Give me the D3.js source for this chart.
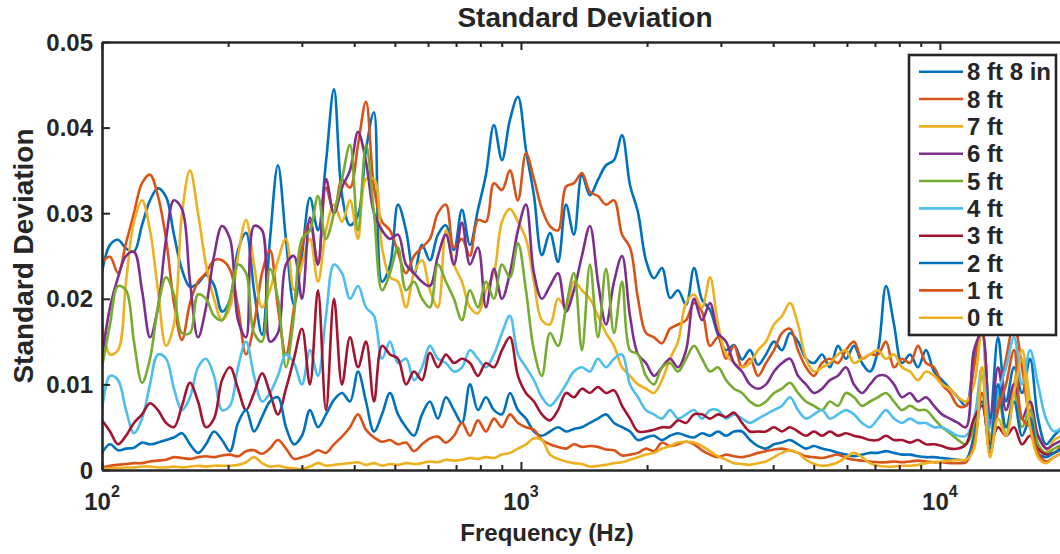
<!DOCTYPE html>
<html>
<head>
<meta charset="utf-8">
<script src="https://cdn.jsdelivr.net/npm/d3@7"></script>
<style>
  body { margin: 0; background: #fff; }
  svg { display: block; font-family: "Liberation Sans", Arial, Helvetica, sans-serif; font-weight: bold; }
</style>
</head>
<body>
<svg id="chart" width="1060" height="554"></svg>
<script>
// Frequency grid (Hz), shared by every curve
const freqHz = [100,104.5,109.2,114.1,119.2,124.6,130.2,136.0,142.2,148.5,155.2,162.2,169.5,177.1,185.1,193.4,202.1,211.2,220.7,230.6,241.0,251.7,263.0,274.9,287.2,300.1,313.6,327.7,342.5,357.9,374.0,390.8,408.4,426.7,445.9,466.0,486.9,508.8,531.7,555.6,580.6,606.3,633.6,662.1,691.9,723.0,755.5,789.5,825.0,862.1,900.9,941.2,983.6,1028,1074,1122,1173,1226,1281,1338,1398,1461,1527,1596,1668,1743,1821,1903,1988,2078,2171,2269,2371,2478,2589,2705,2827,2954,3087,3226,3371,3521,3680,3845,4018,4199,4388,4585,4791,5007,5232,5465,5711,5968,6236,6517,6810,7116,7436,7771,8120,8485,8867,9265,9682,10117,10572,11048,11544,12063,12606,13173,13765,14384,15031,15707,16413,17151,17922,18728,19570];

// Standard deviation per microphone height
const sd8ft8in = [0.0231,0.0263,0.0269,0.0259,0.0255,0.0286,0.0315,0.0329,0.0319,0.0275,0.0234,0.0214,0.0218,0.0228,0.0216,0.0185,0.0199,0.0257,0.0277,0.021,0.0158,0.0269,0.0356,0.0269,0.0193,0.0251,0.0318,0.028,0.036,0.0445,
  0.0321,0.0286,0.0298,0.0374,0.0418,0.022,0.0239,0.031,0.028,0.0228,0.0263,0.0245,0.0275,0.0286,0.0257,0.0304,0.0263,0.0304,0.0345,0.0403,0.0362,0.0409,0.0436,0.0374,0.0321,0.0251,0.0277,0.0243,0.031,0.0275,0.0345,0.0321,0.0339,0.0356,0.0362,0.0391,0.0333,0.0301,0.0245,0.0224,0.0236,0.0201,0.021,0.0193,0.0236,0.0199,0.0187,0.0158,0.014,0.0146,0.0129,0.014,0.0123,
  0.0135,0.015,0.014,0.016,0.015,0.013,0.0125,0.0135,0.012,0.0145,0.013,0.0145,0.0125,0.0115,0.014,0.0215,0.017,0.0125,0.0135,0.012,0.014,0.0115,0.0105,0.0095,0.0085,
  0.0075,0.013,0.016,0.006,0.0155,0.008,0.012,0.009,0.013,0.006,0.003,0.004,0.005];
const sd8ft = [0.0243,0.0249,0.023,0.0265,0.03,0.0335,0.0345,0.032,0.027,0.0195,0.0152,0.0195,0.022,0.023,0.0245,0.0245,0.0234,0.019,0.0135,0.017,0.023,0.0257,0.019,0.0135,0.019,0.026,0.029,0.024,0.033,0.03,
  0.0339,0.033,0.038,0.043,0.033,0.029,0.028,0.0254,0.023,0.025,0.026,0.027,0.03,0.031,0.026,0.027,0.025,0.0292,0.029,0.0335,0.0327,0.035,0.0315,0.037,0.034,0.0305,0.0285,0.028,0.0331,0.0335,0.0347,0.0325,0.032,0.031,0.0315,0.0275,0.026,0.02,0.016,0.0155,0.0148,0.0165,0.017,0.0175,0.0195,0.0185,0.0145,0.0155,0.013,0.0145,0.012,0.013,0.011,
  0.0125,0.014,0.016,0.0165,0.014,0.012,0.011,0.0125,0.013,0.0125,0.014,0.015,0.013,0.0135,0.0135,0.015,0.012,0.013,0.0125,0.0145,0.0125,0.012,0.01,0.009,0.0075,
  0.0075,0.012,0.017,0.004,0.008,0.013,0.017,0.012,0.006,0.004,0.0025,0.002,0.003];
const sd7ft = [0.0172,0.0135,0.014,0.022,0.029,0.0315,0.028,0.021,0.0145,0.017,0.03,0.035,0.03,0.024,0.02,0.0175,0.019,0.025,0.0292,0.024,0.019,0.021,0.0245,0.027,0.021,0.024,0.027,0.022,0.028,0.031,
  0.029,0.0315,0.027,0.034,0.034,0.026,0.0225,0.022,0.019,0.023,0.0245,0.021,0.019,0.028,0.024,0.022,0.019,0.0183,0.021,0.023,0.029,0.0305,0.029,0.027,0.022,0.0175,0.017,0.02,0.019,0.022,0.021,0.02,0.018,0.016,0.0145,0.012,0.011,0.01,0.0095,0.009,0.0105,0.013,0.015,0.0195,0.0205,0.019,0.0225,0.017,0.0135,0.0125,0.012,0.0125,0.014,
  0.015,0.017,0.018,0.0195,0.017,0.013,0.0115,0.012,0.0125,0.0135,0.014,0.0125,0.013,0.0135,0.014,0.013,0.0135,0.012,0.0115,0.0105,0.0115,0.011,0.01,0.0095,0.0085,
  0.008,0.01,0.0165,0.003,0.009,0.005,0.01,0.014,0.008,0.003,0.002,0.0035,0.004];
const sd6ft = [0.013,0.019,0.0225,0.025,0.0255,0.021,0.0155,0.019,0.027,0.0315,0.0305,0.022,0.0155,0.019,0.025,0.0285,0.027,0.0175,0.0155,0.0285,0.028,0.015,0.016,0.024,0.025,0.02,0.0295,0.024,0.034,0.03,
  0.033,0.035,0.0395,0.036,0.03,0.028,0.027,0.0275,0.024,0.023,0.022,0.0215,0.025,0.0275,0.024,0.0289,0.024,0.026,0.019,0.0235,0.02,0.023,0.028,0.031,0.023,0.02,0.0215,0.023,0.0185,0.021,0.025,0.0285,0.022,0.017,0.022,0.025,0.018,0.0135,0.0125,0.011,0.012,0.013,0.012,0.014,0.02,0.0175,0.0195,0.016,0.015,0.0125,0.0115,0.01,0.0095,
  0.01,0.0115,0.0125,0.013,0.011,0.01,0.009,0.0095,0.0105,0.011,0.012,0.01,0.009,0.01,0.011,0.011,0.01,0.0085,0.009,0.008,0.0085,0.0075,0.0065,0.006,0.0055,
  0.005,0.014,0.016,0.005,0.012,0.007,0.01,0.006,0.008,0.004,0.0025,0.003,0.0035];
const sd5ft = [0.012,0.017,0.0215,0.021,0.015,0.0102,0.013,0.019,0.0225,0.0205,0.016,0.016,0.0205,0.02,0.018,0.0175,0.02,0.024,0.023,0.016,0.015,0.0235,0.02,0.012,0.018,0.027,0.028,0.032,0.027,0.03,
  0.034,0.038,0.028,0.038,0.03,0.021,0.023,0.026,0.021,0.022,0.02,0.019,0.024,0.022,0.02,0.0175,0.021,0.019,0.022,0.02,0.024,0.0225,0.0265,0.021,0.014,0.011,0.016,0.0145,0.019,0.023,0.014,0.024,0.0155,0.0235,0.016,0.022,0.014,0.0135,0.011,0.01,0.012,0.0125,0.0115,0.013,0.0145,0.013,0.0115,0.012,0.0105,0.0095,0.009,0.008,0.0075,
  0.008,0.009,0.0095,0.0102,0.009,0.008,0.0075,0.007,0.008,0.0075,0.009,0.0085,0.0075,0.008,0.0085,0.009,0.008,0.007,0.0075,0.007,0.007,0.006,0.005,0.0043,0.0035,
  0.003,0.005,0.011,0.0035,0.009,0.004,0.009,0.005,0.007,0.003,0.002,0.0025,0.003];
const sd4ft = [0.007,0.011,0.0105,0.007,0.0043,0.006,0.01,0.0135,0.013,0.0095,0.007,0.0085,0.012,0.013,0.011,0.007,0.0075,0.012,0.015,0.011,0.008,0.009,0.011,0.0135,0.0125,0.01,0.014,0.011,0.018,0.024,
  0.023,0.02,0.0215,0.019,0.018,0.013,0.015,0.0125,0.013,0.0105,0.012,0.0145,0.013,0.0125,0.0115,0.012,0.014,0.013,0.012,0.0135,0.016,0.018,0.0135,0.012,0.0105,0.0085,0.0075,0.0085,0.01,0.0115,0.012,0.0115,0.013,0.012,0.013,0.0135,0.01,0.0085,0.007,0.0065,0.006,0.007,0.006,0.0065,0.007,0.006,0.007,0.007,0.006,0.0065,0.006,0.0055,0.006,
  0.0065,0.007,0.0075,0.0085,0.007,0.006,0.0065,0.007,0.006,0.0065,0.007,0.0065,0.0055,0.005,0.006,0.007,0.006,0.0055,0.006,0.0055,0.0055,0.005,0.005,0.0045,0.004,
  0.004,0.006,0.012,0.005,0.009,0.012,0.0155,0.01,0.014,0.01,0.006,0.0045,0.005];
const sd3ft = [0.0058,0.0045,0.003,0.004,0.0055,0.0065,0.0078,0.007,0.0055,0.005,0.0075,0.0102,0.008,0.005,0.006,0.0105,0.012,0.0095,0.007,0.009,0.0113,0.009,0.0065,0.0095,0.013,0.0165,0.01,0.021,0.007,0.02,
  0.01,0.0155,0.012,0.015,0.008,0.0145,0.0135,0.013,0.01,0.0115,0.0105,0.0137,0.012,0.0135,0.0125,0.013,0.0125,0.011,0.0125,0.012,0.014,0.0155,0.011,0.009,0.008,0.0065,0.0058,0.007,0.009,0.0085,0.0095,0.009,0.0097,0.009,0.0093,0.0075,0.006,0.0045,0.0045,0.0047,0.005,0.005,0.0058,0.0055,0.0065,0.0065,0.006,0.0065,0.0062,0.0067,0.0055,0.0045,0.0045,
  0.0045,0.005,0.0045,0.005,0.0045,0.004,0.0045,0.004,0.0045,0.004,0.0043,0.004,0.0038,0.0035,0.0035,0.004,0.0035,0.0035,0.0032,0.0035,0.003,0.003,0.0028,0.0025,0.0025,
  0.003,0.006,0.0075,0.003,0.005,0.004,0.005,0.003,0.004,0.0025,0.0018,0.002,0.0025];
const sd2ft = [0.002,0.003,0.0023,0.0025,0.0026,0.0032,0.003,0.0032,0.0035,0.0038,0.0043,0.003,0.002,0.003,0.0045,0.0035,0.0022,0.0055,0.007,0.0045,0.0062,0.008,0.0085,0.005,0.003,0.004,0.007,0.005,0.0065,0.0082,
  0.009,0.008,0.0115,0.008,0.0045,0.0065,0.009,0.0065,0.005,0.004,0.0065,0.008,0.006,0.0085,0.007,0.0055,0.01,0.007,0.0085,0.007,0.0065,0.009,0.007,0.006,0.0045,0.004,0.0045,0.005,0.0045,0.0048,0.005,0.0055,0.006,0.0065,0.0055,0.005,0.0045,0.0035,0.0038,0.004,0.0035,0.004,0.0043,0.004,0.0038,0.0043,0.004,0.0045,0.004,0.0045,0.0045,0.0035,0.0028,
  0.0025,0.003,0.0032,0.0035,0.003,0.0025,0.0028,0.0025,0.0023,0.002,0.0018,0.0016,0.0018,0.002,0.002,0.0022,0.002,0.0018,0.0018,0.0016,0.0015,0.0015,0.0014,0.0013,0.0012,
  0.0012,0.004,0.008,0.0025,0.01,0.005,0.008,0.004,0.006,0.002,0.0015,0.002,0.0025];
const sd1ft = [0.0003,0.0005,0.0006,0.0007,0.0008,0.0008,0.001,0.0011,0.0012,0.0015,0.0014,0.0013,0.0015,0.0016,0.0015,0.0017,0.0018,0.0016,0.0022,0.0023,0.0019,0.0025,0.0035,0.0025,0.0013,0.0015,0.0018,0.0023,0.002,0.003,
  0.0039,0.005,0.0065,0.0047,0.0038,0.0033,0.0035,0.003,0.0032,0.0022,0.003,0.0037,0.0039,0.0032,0.004,0.0055,0.004,0.0058,0.0045,0.006,0.005,0.0065,0.0055,0.005,0.0047,0.0035,0.003,0.0027,0.0025,0.003,0.0027,0.0028,0.0027,0.0024,0.0023,0.0017,0.0018,0.002,0.0025,0.0022,0.0032,0.0028,0.003,0.0033,0.003,0.0023,0.0018,0.0015,0.0018,0.0016,0.0015,0.0017,0.002,
  0.0022,0.0024,0.0025,0.0023,0.002,0.0016,0.0015,0.0014,0.0016,0.0018,0.0014,0.0012,0.0011,0.001,0.0009,0.0009,0.001,0.0009,0.001,0.0011,0.001,0.0009,0.0009,0.0008,0.0008,
  0.0009,0.003,0.009,0.002,0.007,0.01,0.014,0.006,0.005,0.002,0.001,0.0015,0.002];
const sd0ft = [0.0001,0.0002,0.0002,0.0003,0.0003,0.0004,0.0004,0.0003,0.0003,0.0004,0.0003,0.0004,0.0005,0.0004,0.0005,0.0005,0.0005,0.0006,0.0009,0.0015,0.0008,0.0004,0.0005,0.0003,0.0002,0.0001,0.0004,0.0008,0.0005,0.0006,
  0.0007,0.0008,0.0009,0.0006,0.0008,0.0005,0.0007,0.0006,0.0008,0.0007,0.0008,0.001,0.0009,0.0012,0.0011,0.0012,0.0014,0.0013,0.0015,0.0014,0.0018,0.002,0.0025,0.003,0.0037,0.0035,0.0018,0.0013,0.001,0.0008,0.0007,0.0004,0.0005,0.0006,0.0008,0.0009,0.0012,0.0015,0.0018,0.002,0.0025,0.0028,0.0032,0.0033,0.0032,0.0028,0.0022,0.0016,0.0012,0.0008,0.0007,0.0006,0.0008,
  0.001,0.0015,0.002,0.0023,0.002,0.0012,0.0007,0.0005,0.0006,0.0009,0.0015,0.002,0.0015,0.0008,0.0005,0.0004,0.0004,0.0005,0.0005,0.0006,0.0008,0.0009,0.001,0.0011,0.0012,
  0.0012,0.0025,0.012,0.0015,0.006,0.004,0.009,0.013,0.005,0.0015,0.0008,0.0015,0.002];

const seriesNames = ["8 ft 8 in", "8 ft", "7 ft", "6 ft", "5 ft", "4 ft", "3 ft", "2 ft", "1 ft", "0 ft"];
const seriesValues = [sd8ft8in, sd8ft, sd7ft, sd6ft, sd5ft, sd4ft, sd3ft, sd2ft, sd1ft, sd0ft];
const seriesColors = ["#0072BD", "#D95319", "#EDB120", "#7E2F8E", "#77AC30", "#4DBEEE", "#A2142F", "#0072BD", "#D95319", "#EDB120"];

const yTickValues = [0, 0.01, 0.02, 0.03, 0.04, 0.05];
const yTickLabels = ["0", "0.01", "0.02", "0.03", "0.04", "0.05"];
const xMajorTicks = [100, 1000, 10000];
const xMajorExponents = ["2", "3", "4"];
const xMinorTicks = [200, 300, 400, 500, 600, 700, 800, 900, 2000, 3000, 4000, 5000, 6000, 7000, 8000, 9000];

const ink = "#262626";
const svg = d3.select("#chart");
const plot = { left: 102, right: 1066, top: 42, bottom: 470 };

const x = d3.scaleLog().domain([100, 20000]).range([plot.left, plot.right]);
const y = d3.scaleLinear().domain([0, 0.05]).range([plot.bottom, plot.top]);

svg.append("rect").attr("width", 1060).attr("height", 554).attr("fill", "#fff");

svg.append("defs").append("clipPath").attr("id", "plotClip")
  .append("rect")
  .attr("x", plot.left).attr("y", plot.top)
  .attr("width", plot.right - plot.left).attr("height", plot.bottom - plot.top);

// curves
const line = d3.line()
  .x(d => x(d[0]))
  .y(d => y(d[1]))
  .curve(d3.curveCatmullRom.alpha(0.5));

const curves = svg.append("g").attr("clip-path", "url(#plotClip)");
seriesValues.forEach((vals, i) => {
  const pts = freqHz.map((f, j) => [f, vals[j]]).filter(d => d[1] != null);
  curves.append("path")
    .datum(pts)
    .attr("d", line)
    .attr("fill", "none")
    .attr("stroke", seriesColors[i])
    .attr("stroke-width", 2.6)
    .attr("stroke-linejoin", "round");
});

// axes
function styleAxis(g, width) {
  g.selectAll("path.domain").attr("stroke", ink).attr("stroke-width", width);
  g.selectAll(".tick line").attr("stroke", ink).attr("stroke-width", 2);
  g.selectAll(".tick text").remove();
}

const yAxis = svg.append("g")
  .attr("transform", `translate(${plot.left},0)`)
  .call(d3.axisLeft(y).tickValues(yTickValues).tickSizeInner(-8).tickSizeOuter(0).tickFormat(""));
styleAxis(yAxis, 2.6);

const xAxisBottom = svg.append("g")
  .attr("transform", `translate(0,${plot.bottom})`)
  .call(d3.axisBottom(x).tickValues(xMajorTicks).tickSizeInner(-8).tickSizeOuter(0).tickFormat(""));
styleAxis(xAxisBottom, 2.6);

const xMinorBottom = svg.append("g")
  .attr("transform", `translate(0,${plot.bottom})`)
  .call(d3.axisBottom(x).tickValues(xMinorTicks).tickSizeInner(-5).tickSizeOuter(0).tickFormat(""));
styleAxis(xMinorBottom, 0);
xMinorBottom.select("path.domain").remove();

const xAxisTop = svg.append("g")
  .attr("transform", `translate(0,${plot.top})`)
  .call(d3.axisTop(x).tickValues(xMajorTicks).tickSizeInner(-8).tickSizeOuter(0).tickFormat(""));
styleAxis(xAxisTop, 2.6);

const xMinorTop = svg.append("g")
  .attr("transform", `translate(0,${plot.top})`)
  .call(d3.axisTop(x).tickValues(xMinorTicks).tickSizeInner(-5).tickSizeOuter(0).tickFormat(""));
styleAxis(xMinorTop, 0);
xMinorTop.select("path.domain").remove();

// tick labels
svg.append("g").selectAll("text")
  .data(yTickValues)
  .join("text")
  .attr("x", plot.left - 9)
  .attr("y", d => y(d))
  .attr("dy", "0.36em")
  .attr("text-anchor", "end")
  .attr("font-size", 24)
  .attr("fill", ink)
  .text((d, i) => yTickLabels[i]);

const xLabels = svg.append("g").selectAll("text")
  .data(xMajorTicks)
  .join("text")
  .attr("x", d => x(d))
  .attr("y", 510)
  .attr("text-anchor", "middle")
  .attr("font-size", 24)
  .attr("fill", ink);
xLabels.append("tspan").text("10");
xLabels.append("tspan").attr("dy", -13).attr("font-size", 16).text((d, i) => xMajorExponents[i]);

// titles
svg.append("text")
  .attr("x", 585).attr("y", 27)
  .attr("text-anchor", "middle")
  .attr("font-size", 28)
  .attr("fill", ink)
  .text("Standard Deviation");

svg.append("text")
  .attr("x", 547).attr("y", 541)
  .attr("text-anchor", "middle")
  .attr("font-size", 24)
  .attr("fill", ink)
  .text("Frequency (Hz)");

svg.append("text")
  .attr("transform", "translate(33,256) rotate(-90)")
  .attr("text-anchor", "middle")
  .attr("font-size", 28)
  .attr("fill", ink)
  .text("Standard Deviation");

// legend
const legend = svg.append("g");
legend.append("rect")
  .attr("x", 909).attr("y", 55)
  .attr("width", 147).attr("height", 280)
  .attr("fill", "#fff")
  .attr("stroke", ink)
  .attr("stroke-width", 2.6);

const rowY = d3.scaleLinear().domain([0, seriesNames.length - 1]).range([71.7, 317.7]);
const rows = legend.selectAll("g.row")
  .data(seriesNames)
  .join("g")
  .attr("class", "row")
  .attr("transform", (d, i) => `translate(0,${rowY(i)})`);
rows.append("line")
  .attr("x1", 919).attr("x2", 963)
  .attr("stroke", (d, i) => seriesColors[i])
  .attr("stroke-width", 2.6);
rows.append("text")
  .attr("x", 967)
  .attr("dy", "0.36em")
  .attr("font-size", 24)
  .attr("fill", ink)
  .text(d => d);
</script>
</body>
</html>
